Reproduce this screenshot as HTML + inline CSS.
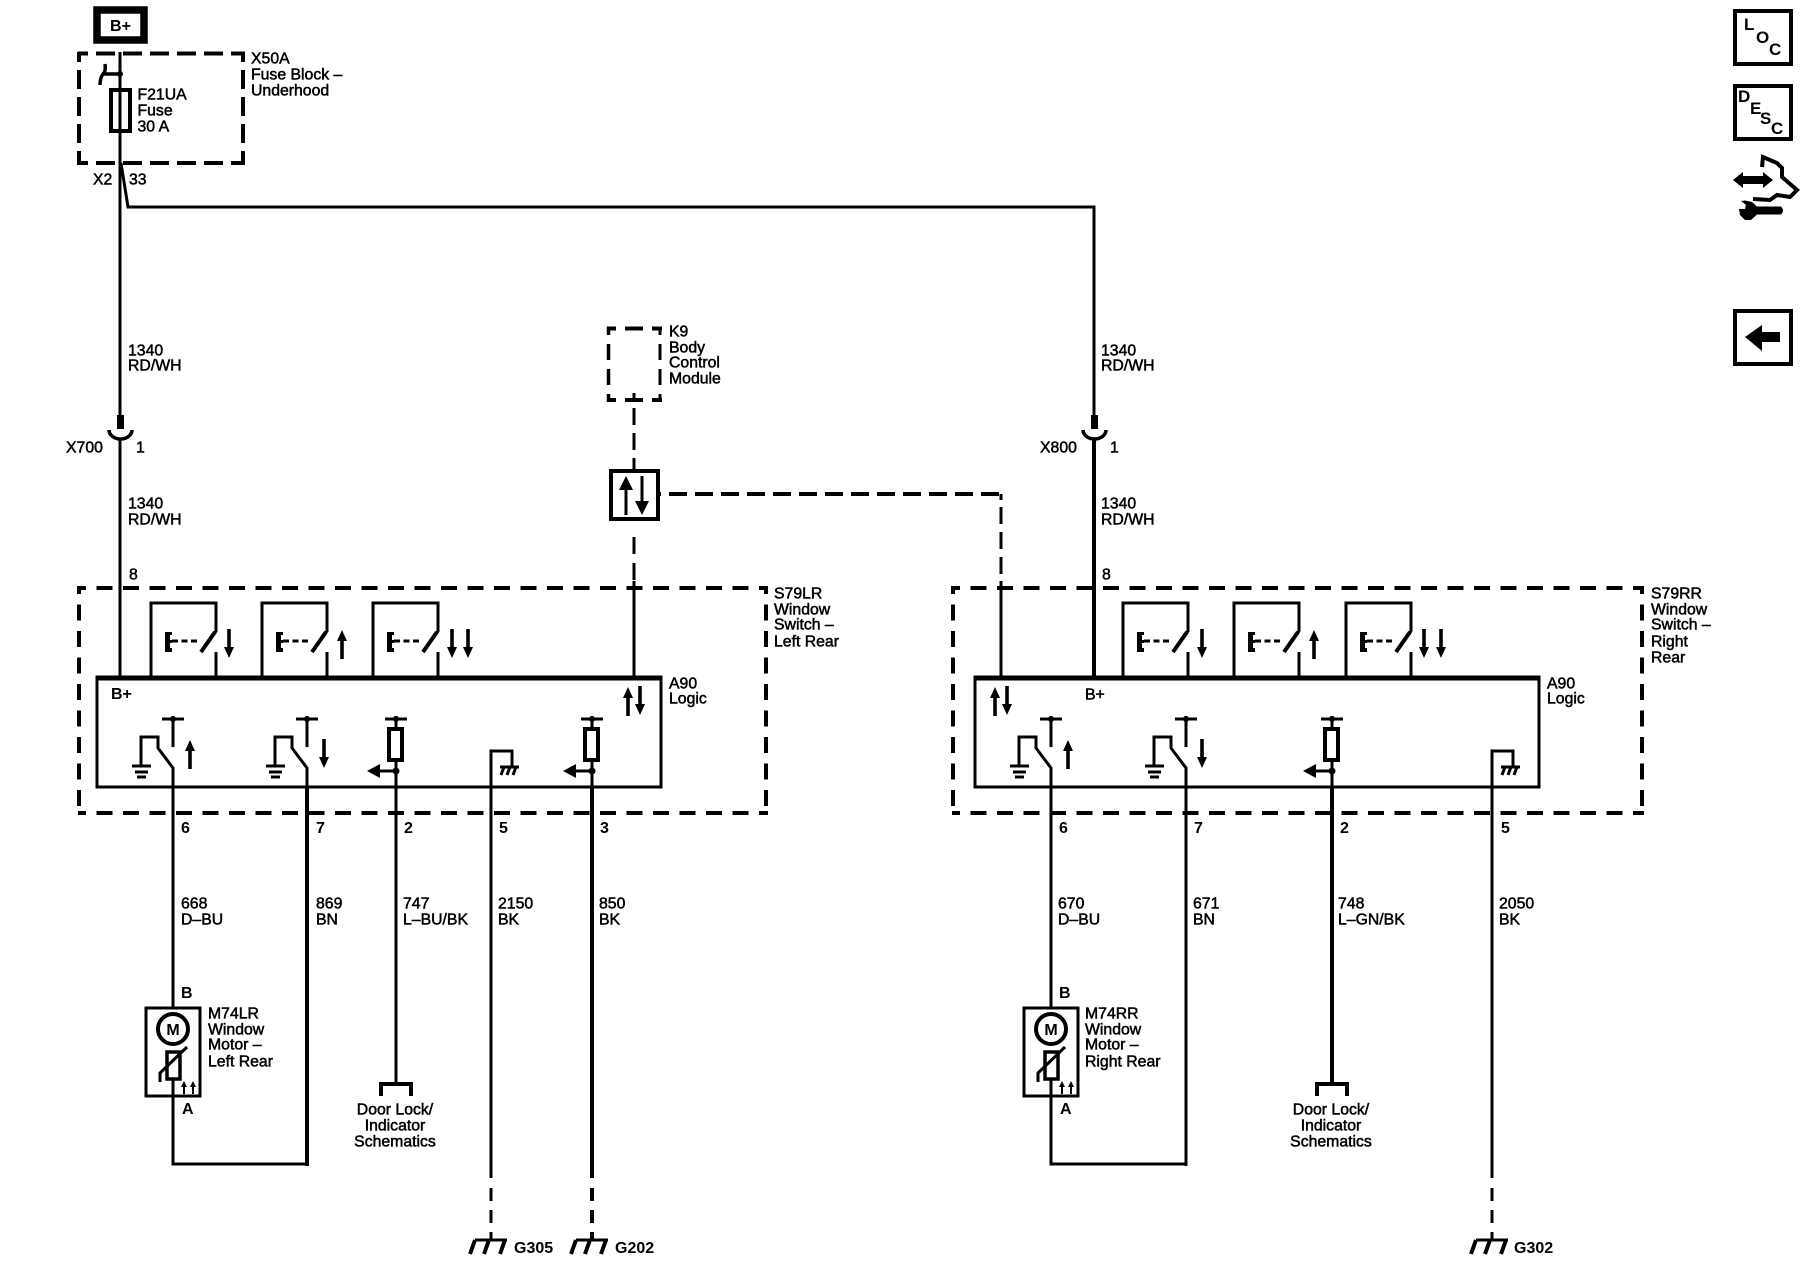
<!DOCTYPE html>
<html>
<head>
<meta charset="utf-8">
<style>
html,body{margin:0;padding:0;background:#fff}
svg{display:block}
text{font-family:"Liberation Sans",sans-serif;font-size:15.8px;fill:#000;stroke:#000;stroke-width:.5px}
text:not(.b){transform:translateY(.5px)}
.b{font-weight:bold;stroke-width:0;font-size:16px}
.c{text-anchor:middle}
.w{fill:none;stroke:#000;stroke-width:3}
.t{fill:none;stroke:#000;stroke-width:4}
.d{fill:none;stroke:#000;stroke-width:4;stroke-dasharray:16 10.5;stroke-dashoffset:8}
.k{fill:#000;stroke:none}
</style>
</head>
<body>
<svg width="1800" height="1280" viewBox="0 0 1800 1280" xmlns="http://www.w3.org/2000/svg">
<defs>
<g id="dn"><path class="k" d="M-1.8 0H1.8V18H5L0 29L-5 18H-1.800Z"/></g>
<g id="up"><path class="k" d="M-1.8 29H1.8V11H5L0 0L-5 11H-1.800Z"/></g>
<g id="sw">
<path class="w" d="M0 678V603H65V631L50 652"/>
<path class="w" d="M65 652V678"/>
<path class="t" d="M64 632L50 652"/>
<path class="k" d="M14 632H21V635H19V640H21V643H19V648H21V652H14Z"/>
<path class="w" d="M21 641H48" style="stroke-dasharray:6 3.5"/>
</g>
<g id="rel">
<path class="w" d="M0 787V768L-15 748V737H-32V766"/>
<path class="w" d="M-41 766H-22"/>
<path class="w" d="M-38 772H-25"/>
<path class="w" d="M-36 777H-27"/>
<path class="w" d="M-11 719H11M0 716V747"/>
<circle class="k" cx="0" cy="719" r="3"/>
</g>
<g id="fus">
<path class="w" d="M-11 719H11M0 716V728"/>
<circle class="k" cx="0" cy="719" r="3"/>
<rect class="t" x="-7" y="729" width="13" height="31"/>
<path class="w" d="M-18 771H0"/>
<path class="k" d="M-29 771L-16 764V778Z"/>
<circle class="k" cx="0" cy="771" r="3.5"/>
<path class="w" d="M0 760V790"/>
</g>
<g id="hatch">
<path class="w" d="M0 787V751H21V766"/>
<path class="w" d="M9 767H28"/>
<path class="w" d="M13 767L10 775M19 767L16 775M25 767L22 775"/>
</g>
<g id="gnd">
<path class="w" d="M-16 1240H16"/>
<path class="t" d="M-16 1240L-21 1254M-2 1240L-7 1254M14 1240L9 1254"/>
</g>
<g id="motor">
<rect class="w" x="-27" y="1008" width="54" height="88" style="fill:#fff"/>
<circle cx="0" cy="1029" r="15" fill="#fff" stroke="#000" stroke-width="4"/>
<rect class="w" x="-6" y="1052" width="13" height="27" style="stroke-width:3.5"/>
<path class="w" d="M-13 1082V1073L14 1047"/>
<path class="w" d="M0 1079V1096"/>
<path class="k" d="M10 1094V1087H8L11 1081L14 1087H12V1094Z"/>
<path class="k" d="M19 1094V1087H17L20 1081L23 1087H21V1094Z"/>
</g>
<g id="door">
<path class="t" d="M-15 1096V1084H15V1096"/>
</g>
</defs>

<!-- Top source -->
<rect x="97" y="10" width="47" height="30" fill="none" stroke="#000" stroke-width="7.500"/>
<text class="b" x="120.500" y="31" text-anchor="middle">B+</text>

<!-- Fuse block -->
<path class="d" style="stroke-dasharray:19 8;stroke-dashoffset:9" d="M78 53.500H245"/>
<path class="d" style="stroke-dasharray:19 8;stroke-dashoffset:9" d="M78 163H245"/>
<path class="d" style="stroke-dasharray:19 8;stroke-dashoffset:9" d="M79 52V165"/>
<path class="d" style="stroke-dasharray:19 8;stroke-dashoffset:9" d="M243 52V165"/>
<rect x="111" y="90" width="19" height="41" fill="#fff" stroke="#000" stroke-width="4"/>
<path class="w" d="M120 52V426"/>
<path class="w" d="M120 74H104" style="stroke-width:3.500"/>
<circle class="k" cx="120" cy="74" r="3"/>
<path class="w" d="M105 64Q106 72 103 74Q100 78 100 85" style="stroke-width:3.500"/>
<path class="w" d="M121 163L128 207H1094V420"/>

<text x="137.500" y="99">F21UA</text>
<text x="137.500" y="115">Fuse</text>
<text x="137.500" y="131">30 A</text>
<text x="251" y="63">X50A</text>
<text x="251" y="79">Fuse Block –</text>
<text x="251" y="95">Underhood</text>
<text x="93" y="184">X2</text>
<text x="129" y="184">33</text>

<!-- Wires above connectors -->
<text x="128" y="355">1340</text>
<text x="128" y="370">RD/WH</text>
<text x="1101" y="355">1340</text>
<text x="1101" y="370">RD/WH</text>

<!-- X700 -->
<rect class="k" x="117" y="415" width="7" height="14"/>
<path class="w" d="M109 430A11.500 9 0 0 0 132 430" style="stroke-width:3.500"/>
<path class="w" d="M120 438V678"/>
<text x="66" y="452">X700</text>
<text x="136" y="452">1</text>
<text x="128" y="508">1340</text>
<text x="128" y="524">RD/WH</text>
<text x="129" y="579">8</text>

<!-- X800 -->
<rect class="k" x="1091" y="415" width="7" height="14"/>
<path class="w" d="M1083 430A11.500 9 0 0 0 1106 430" style="stroke-width:3.500"/>
<path class="t" d="M1094 438V678"/>
<text x="1040" y="452">X800</text>
<text x="1110" y="452">1</text>
<text x="1101" y="508">1340</text>
<text x="1101" y="524">RD/WH</text>
<text x="1102" y="579">8</text>

<!-- K9 -->
<path class="d" style="stroke-dasharray:18 9;stroke-dashoffset:9" d="M607 328.500H662"/>
<path class="d" style="stroke-dasharray:18 9;stroke-dashoffset:9" d="M607 400H662"/>
<path class="d" style="stroke-dasharray:16 9;stroke-dashoffset:8;stroke-width:3.500" d="M608.500 327V402"/>
<path class="d" style="stroke-dasharray:16 9;stroke-dashoffset:8;stroke-width:3" d="M660 327V402"/>
<text x="669" y="336">K9</text>
<text x="669" y="352">Body</text>
<text x="669" y="367">Control</text>
<text x="669" y="383">Module</text>

<path class="d" style="stroke-width:3;stroke-dasharray:17 8;stroke-dashoffset:10" d="M634 393V470"/>
<path class="d" style="stroke-dasharray:18 8" d="M651 494H1001"/>
<path class="d" style="stroke-width:3;stroke-dasharray:17 8;stroke-dashoffset:0" d="M1001 507V581"/>
<path class="d" style="stroke-width:3;stroke-dasharray:17 9;stroke-dashoffset:0" d="M634 537V581"/>
<path class="w" d="M1001 494V500"/>
<rect x="611" y="471" width="47" height="48" fill="#fff" stroke="#000" stroke-width="4"/>
<path class="k" d="M624.500 515V490H619L626 476L633 490H627.500V515Z"/>
<path class="k" d="M640.500 476V501H635L642 515L649 501H643.500V476Z"/>

<!-- LEFT SWITCH -->
<path class="d" d="M78 588H768"/>
<path class="d" d="M78 813H768"/>
<path class="d" d="M79 586V815"/>
<path class="d" d="M766 586V815"/>
<path class="w" d="M634 581V678"/>

<use href="#sw" x="151"/>
<use href="#sw" x="262"/>
<use href="#sw" x="373"/>
<use href="#dn" x="229" y="629"/>
<use href="#up" x="342" y="630"/>
<use href="#dn" x="452" y="629"/>
<use href="#dn" x="468" y="629"/>

<path d="M97 678H661V787H97Z" fill="none" stroke="#000" stroke-width="3"/>
<path class="k" d="M95.500 675.500H662.500V680.500H95.500Z"/>
<text x="111" y="699" class="b">B+</text>
<use href="#up" x="628" y="687"/>
<use href="#dn" x="640" y="686"/>
<use href="#rel" x="173"/>
<use href="#up" x="190" y="740"/>
<use href="#rel" x="307"/>
<use href="#dn" x="324" y="739"/>
<use href="#fus" x="396"/>
<g transform="translate(491,0)"><use href="#hatch"/></g>
<use href="#fus" x="592"/>

<text x="774" y="598">S79LR</text>
<text x="774" y="614">Window</text>
<text x="774" y="629">Switch –</text>
<text x="774" y="646">Left Rear</text>
<text x="669" y="688">A90</text>
<text x="669" y="703">Logic</text>

<text class="b" x="181" y="833">6</text>
<text class="b" x="316" y="833">7</text>
<text class="b" x="404" y="833">2</text>
<text class="b" x="499" y="833">5</text>
<text class="b" x="600" y="833">3</text>

<!-- Left wires -->
<path class="w" d="M173 787V1164H307"/>
<path class="t" d="M307 787V1166"/>
<path class="w" d="M396 787V1084"/>
<path class="w" d="M491 787V1178"/>
<path class="t" d="M592 787V1178"/>
<path class="w" d="M491 1188V1239" style="stroke-dasharray:13 9"/>
<path class="t" d="M592 1188V1239" style="stroke-dasharray:13 9"/>

<text x="181" y="908">668</text><text x="181" y="924">D–BU</text>
<text x="316" y="908">869</text><text x="316" y="924">BN</text>
<text x="403" y="908">747</text><text x="403" y="924">L–BU/BK</text>
<text x="498" y="908">2150</text><text x="498" y="924">BK</text>
<text x="599" y="908">850</text><text x="599" y="924">BK</text>

<!-- Left motor -->
<use href="#motor" x="173"/>
<text class="b" x="181" y="998">B</text>
<text class="b" x="182" y="1114">A</text>
<text class="b c" x="173" y="1035">M</text>
<text x="208" y="1018">M74LR</text>
<text x="208" y="1034">Window</text>
<text x="208" y="1049">Motor –</text>
<text x="208" y="1066">Left Rear</text>

<use href="#door" x="396"/>
<text class="c" x="395" y="1114">Door Lock/</text>
<text class="c" x="395" y="1130">Indicator</text>
<text class="c" x="395" y="1146">Schematics</text>

<use href="#gnd" x="491"/>
<use href="#gnd" x="592"/>
<text class="b" x="514" y="1253">G305</text>
<text class="b" x="615" y="1253">G202</text>

<!-- RIGHT SWITCH -->
<path class="d" d="M952 588H1644"/>
<path class="d" d="M952 813H1644"/>
<path class="d" d="M953 586V815"/>
<path class="d" d="M1642 586V815"/>
<path class="w" d="M1001 581V678"/>

<use href="#sw" x="1123"/>
<use href="#sw" x="1234"/>
<use href="#sw" x="1346"/>
<use href="#dn" x="1202" y="629"/>
<use href="#up" x="1314" y="630"/>
<use href="#dn" x="1424" y="629"/>
<use href="#dn" x="1441" y="629"/>

<path d="M975 678H1539V787H975Z" fill="none" stroke="#000" stroke-width="3"/>
<path class="k" d="M973.500 675.500H1540.500V680.500H973.500Z"/>
<text x="1085" y="699">B+</text>
<use href="#up" x="995" y="687"/>
<use href="#dn" x="1007" y="686"/>
<use href="#rel" x="1051"/>
<use href="#up" x="1068" y="740"/>
<use href="#rel" x="1186"/>
<use href="#dn" x="1202" y="739"/>
<use href="#fus" x="1332"/>
<g transform="translate(1492,0)"><use href="#hatch"/></g>

<text x="1651" y="598">S79RR</text>
<text x="1651" y="614">Window</text>
<text x="1651" y="629">Switch –</text>
<text x="1651" y="646">Right</text>
<text x="1651" y="662">Rear</text>
<text x="1547" y="688">A90</text>
<text x="1547" y="703">Logic</text>

<text class="b" x="1059" y="833">6</text>
<text class="b" x="1194" y="833">7</text>
<text class="b" x="1340" y="833">2</text>
<text class="b" x="1501" y="833">5</text>

<path class="w" d="M1051 787V1164H1186"/>
<path class="w" d="M1186 787V1166"/>
<path class="t" d="M1332 787V1084"/>
<path class="w" d="M1492 787V1178"/>
<path class="w" d="M1492 1188V1239" style="stroke-dasharray:13 9"/>

<text x="1058" y="908">670</text><text x="1058" y="924">D–BU</text>
<text x="1193" y="908">671</text><text x="1193" y="924">BN</text>
<text x="1338" y="908">748</text><text x="1338" y="924">L–GN/BK</text>
<text x="1499" y="908">2050</text><text x="1499" y="924">BK</text>

<use href="#motor" x="1051"/>
<text class="b" x="1059" y="998">B</text>
<text class="b" x="1060" y="1114">A</text>
<text class="b c" x="1051" y="1035">M</text>
<text x="1085" y="1018">M74RR</text>
<text x="1085" y="1034">Window</text>
<text x="1085" y="1049">Motor –</text>
<text x="1085" y="1066">Right Rear</text>

<use href="#door" x="1332"/>
<text class="c" x="1331" y="1114">Door Lock/</text>
<text class="c" x="1331" y="1130">Indicator</text>
<text class="c" x="1331" y="1146">Schematics</text>

<use href="#gnd" x="1492"/>
<text class="b" x="1514" y="1253">G302</text>

<!-- Right icons -->
<rect x="1735" y="11" width="56" height="53" fill="none" stroke="#000" stroke-width="4"/>
<text class="b" x="1744" y="30" style="font-size:17px">L</text>
<text class="b" x="1756" y="43" style="font-size:17px">O</text>
<text class="b" x="1769" y="55" style="font-size:17px">C</text>
<rect x="1735" y="86" width="56" height="53" fill="none" stroke="#000" stroke-width="4"/>
<text class="b" x="1738" y="102" style="font-size:17px">D</text>
<text class="b" x="1750" y="114" style="font-size:17px">E</text>
<text class="b" x="1760" y="124" style="font-size:17px">S</text>
<text class="b" x="1771" y="134" style="font-size:17px">C</text>

<path class="k" d="M1733 180L1743 172V176H1763V172L1773 180L1763 188V184H1743V188Z"/>
<path d="M1762 167L1763 157L1777 163L1782 168L1782 177L1797 190L1790 197L1777 195L1770 200L1753 199" fill="none" stroke="#000" stroke-width="4"/>
<path class="k" d="M1781 206.500H1757L1752 202L1745 200.500L1741 201L1746 205L1745 209L1739 209L1740 215L1745 220L1751 220L1757 214.500H1781Q1785 210.500 1781 206.500Z"/>

<rect x="1735" y="311" width="56" height="53" fill="none" stroke="#000" stroke-width="4"/>
<path class="k" d="M1745 337L1762 325V332H1780V342H1762V351Z"/>
</svg>
</body>
</html>
